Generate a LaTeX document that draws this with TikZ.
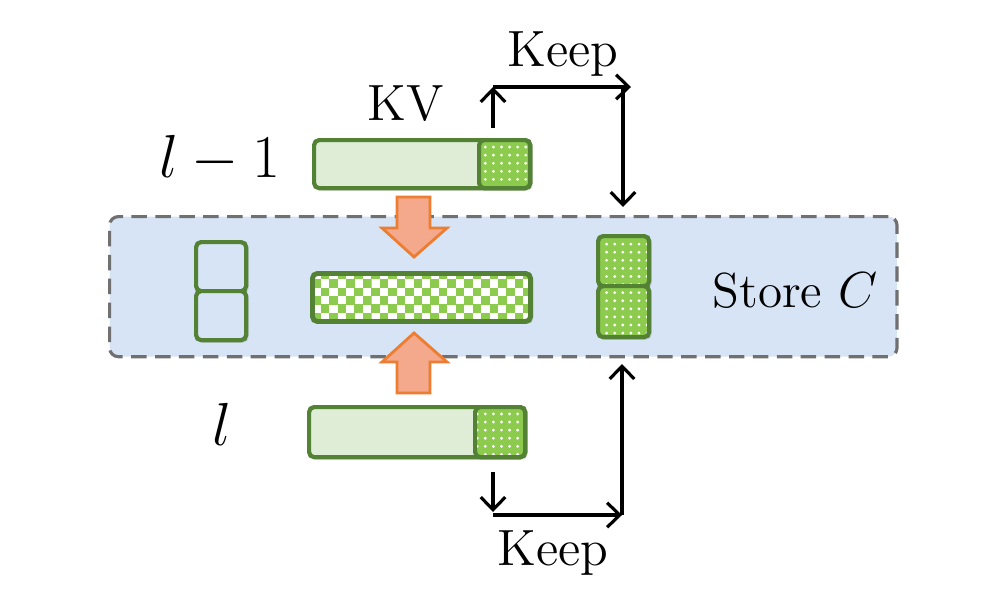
\documentclass[tikz,border=0pt]{standalone}
\usetikzlibrary{patterns,patterns.meta,shadows,arrows.meta}
\definecolor{dgreen}{HTML}{548235}
\definecolor{lgreen}{HTML}{DFEDD6}
\definecolor{mgreen}{HTML}{8CCB4E}
\definecolor{sblue}{HTML}{D6E4F5}
\definecolor{dgray}{HTML}{707070}
\definecolor{oline}{HTML}{ED7D31}
\definecolor{ofill}{HTML}{F4A88C}
\tikzdeclarepattern{
  name=smallchecker, type=uncolored,
  bottom left={(-0.1pt,-0.1pt)}, top right={(4.9pt,4.9pt)},
  tile size={(4.8pt,4.8pt)},
  code={
    \fill (0pt,0pt) rectangle (2.45pt,2.45pt);
    \fill (2.4pt,2.4pt) rectangle (4.85pt,4.85pt);
  }
}
\begin{document}
\begin{tikzpicture}[x=0.01cm,y=-0.01cm,
  shad/.style={drop shadow={opacity=0.25,shadow xshift=0.7pt,shadow yshift=-0.7pt}},
  barbox/.style={shad,draw=dgreen,line width=1.2pt,rounded corners=1.4pt,fill=lgreen,inner sep=0pt,anchor=north west},
  dotbox/.style={draw=dgreen,line width=1.2pt,rounded corners=1.4pt,inner sep=0pt,anchor=north west,
     preaction={fill=mgreen},pattern={Dots[radius=0.45pt,distance=2.3pt]},pattern color=white},
  emptybox/.style={shad,draw=dgreen,line width=1.2pt,rounded corners=1.4pt,fill=sblue,inner sep=0pt,anchor=north west,
     minimum width=0.50cm,minimum height=0.49cm},
  checkbox/.style={shad,draw=dgreen,line width=1.4pt,rounded corners=1.4pt,inner sep=0pt,anchor=north west,
     preaction={fill=white},pattern=smallchecker,pattern color=mgreen},
  blockarrow/.style={draw=oline,line width=0.8pt,fill=ofill},
  arr/.style={line width=0.9pt,-{Straight Barb[length=3.6pt,width=7pt,line width=0.9pt]}},
  lbl/.style={inner sep=0pt,anchor=base},
]
\useasboundingbox (0,0) rectangle (1000,600);

% store region
\node[draw=dgray,line width=0.9pt,dash pattern=on 4.4pt off 2.4pt,rounded corners=2.5pt,fill=sblue,
      inner sep=0pt,anchor=north west,minimum width=7.87cm,minimum height=1.40cm] (store) at (108,215) {};

% top KV bar (layer l-1)
\node[barbox,minimum width=2.16cm,minimum height=0.48cm] (kvtop) at (312,138) {};
\node[dotbox,minimum width=0.51cm,minimum height=0.48cm] (kvtopd) at (477,138) {};

% bottom bar (layer l)
\node[barbox,minimum width=2.16cm,minimum height=0.50cm] (kvbot) at (307,405) {};
\node[dotbox,minimum width=0.50cm,minimum height=0.50cm] (kvbotd) at (473,405) {};

% merged checker bar
\node[checkbox,minimum width=2.18cm,minimum height=0.48cm] (merged) at (310,271) {};

% empty squares
\node[emptybox] (e1) at (194,240) {};
\node[emptybox] (e2) at (194,289) {};

% kept dotted squares
\node[shad,dotbox,minimum width=0.51cm,minimum height=0.50cm] (k1) at (596,234) {};
\node[shad,dotbox,minimum width=0.51cm,minimum height=0.51cm] (k2) at (596,284) {};

% orange block arrows
\draw[blockarrow] (397,197) -- (430,197) -- (430,228) -- (447,228) -- (414,257) -- (382,228) -- (397,228) -- cycle;
\draw[blockarrow] (397,393) -- (430,393) -- (430,362) -- (447,362) -- (414,333) -- (382,362) -- (397,362) -- cycle;

% keep connectors (top)
\coordinate (ta) at (493,128);
\coordinate (tb) at (493,87);
\coordinate (tc) at (631,87);
\coordinate (td) at (623,87);
\coordinate (te) at (623,207);
\draw[arr] (ta) -- (tb);
\draw[arr] (tb) -- (tc);
\draw[arr] (td) -- (te);

% keep connectors (bottom)
\coordinate (ba) at (493,472);
\coordinate (bb) at (493,512);
\coordinate (bc) at (493,515);
\coordinate (bd) at (622,515);
\coordinate (be) at (622,364);
\draw[arr] (ba) -- (bb);
\draw[arr] (bc) -- (bd);
\draw[arr] (bd) -- (be);

% labels
\node[lbl,font=\fontsize{14.5}{16}\selectfont] (keept) at (563,67) {Keep};
\node[lbl,font=\fontsize{14.5}{16}\selectfont] (keepb) at (553,565) {Keep};
\node[lbl,font=\fontsize{14.5}{17}\selectfont] (kv) at (406,120) {KV};
\node[lbl,font=\fontsize{14}{17}\selectfont] (storec) at (795,307) {Store $C$};
\node[lbl,font=\fontsize{16}{18}\selectfont] (lm1) at (220,177) {$l-1$};
\node[lbl,font=\fontsize{16}{18}\selectfont] (ll) at (222,445) {$l$};
\end{tikzpicture}
\end{document}
